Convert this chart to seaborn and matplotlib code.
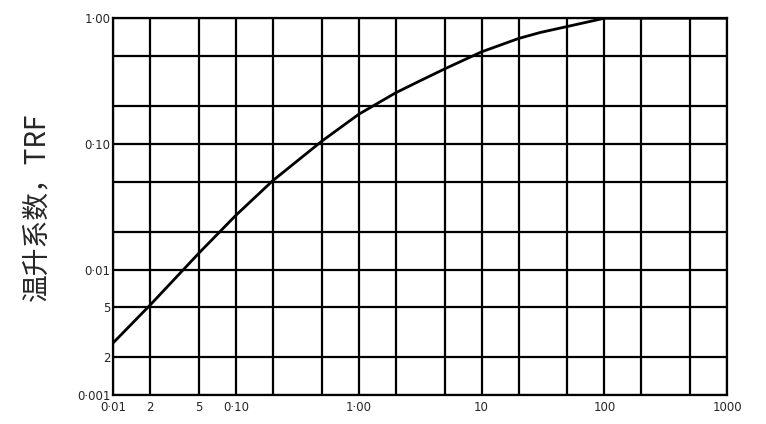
import matplotlib
matplotlib.use("Agg")
import matplotlib.pyplot as plt
import seaborn as sns
import pandas as pd

x_vals = [0.01, 0.02, 0.05, 0.1, 0.2, 0.5, 1, 2, 3, 5, 10, 20, 30, 50, 100, 200, 500, 1000]
trf = [0.0026, 0.0052, 0.0135, 0.027, 0.051, 0.105, 0.172, 0.255, 0.31, 0.395, 0.54, 0.69, 0.77, 0.86, 1.0, 1.0, 1.0, 1.0]
x_grid = [0.01, 0.02, 0.05, 0.1, 0.2, 0.5, 1, 2, 5, 10, 20, 50, 100, 200, 500, 1000]
y_grid = [0.001, 0.002, 0.005, 0.01, 0.02, 0.05, 0.1, 0.2, 0.5, 1.0]
x_ticks = [0.01, 0.02, 0.05, 0.1, 1, 10, 100, 1000]
x_labels = ["0·01", "2", "5", "0·10", "1·00", "10", "100", "1000"]
y_ticks = [0.001, 0.002, 0.005, 0.01, 0.1, 1.0]
y_labels = ["0·001", "2", "5", "0·01", "0·10", "1·00"]

sns.set_style("white")
plt.rcParams['font.family'] = ['DejaVu Sans']

fig = plt.figure(figsize=(7.66, 4.24), dpi=100)
fig.patch.set_facecolor("white")
ax = fig.add_axes([0.1475, 0.068, 0.802, 0.889])
ax.set_xscale("log")
ax.set_yscale("log")
ax.set_xlim(0.01, 1000)
ax.set_ylim(0.001, 1.0)
for g in x_grid:
    ax.axvline(g, color="black", lw=1.6, zorder=1)
for g in y_grid:
    ax.axhline(g, color="black", lw=1.6, zorder=1)
df = pd.DataFrame({"x": x_vals, "y": trf})
sns.lineplot(data=df, x="x", y="y", ax=ax, color="black", lw=2, zorder=3)
ax.set_xticks(x_ticks)
ax.set_xticklabels(x_labels, fontsize=8.5)
ax.set_yticks(y_ticks)
ax.set_yticklabels(y_labels, fontsize=8.5)
ax.minorticks_off()
ax.tick_params(axis="x", length=0, pad=4)
ax.tick_params(axis="y", length=0, pad=2)
for s in ax.spines.values():
    s.set_linewidth(1.6)
    s.set_color("black")
ax.set_xlabel("")
ax.set_ylabel("温升系数，TRF", fontsize=20, family=['Noto Sans CJK SC', 'DejaVu Serif'], labelpad=18)
fig.savefig("out.png", dpi=100)
